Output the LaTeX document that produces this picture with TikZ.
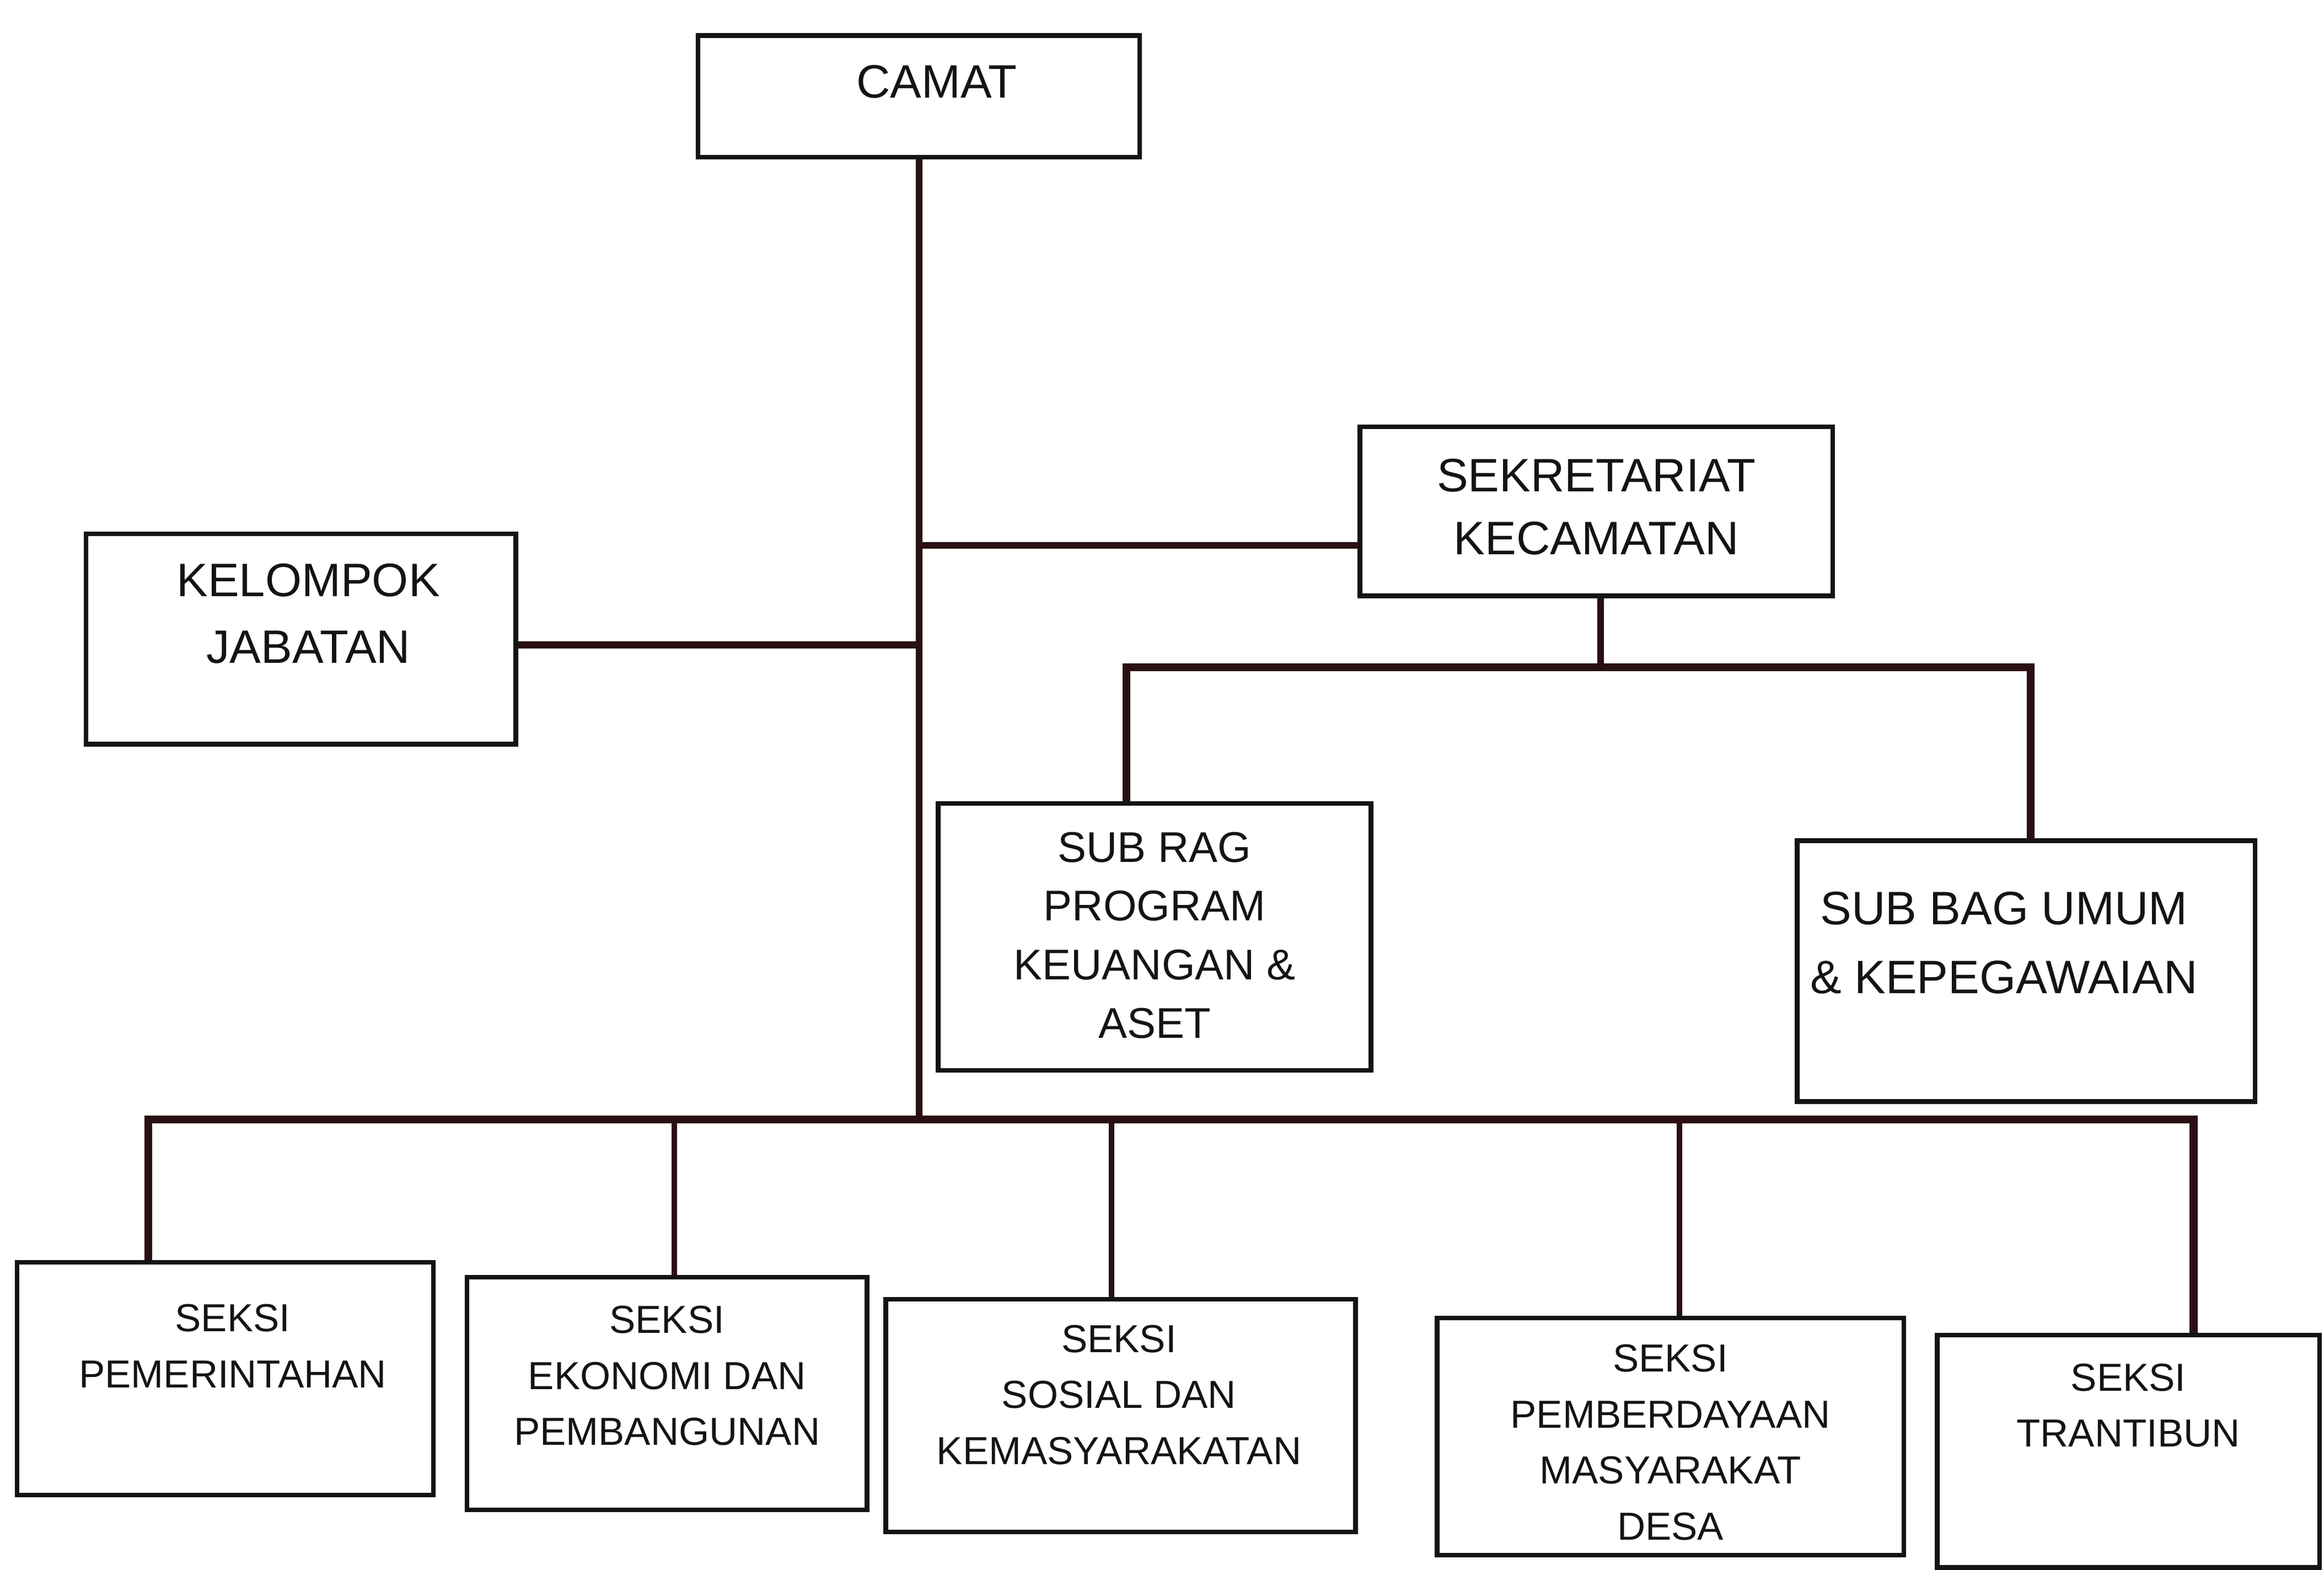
\documentclass[tikz,border=0pt]{standalone}
\usepackage{fontspec}
\setmainfont{Liberation Sans}
\definecolor{linkc}{HTML}{2A1012}
\definecolor{boxc}{HTML}{141414}
\begin{document}
\begin{tikzpicture}[x=0.02cm,y=-0.02cm,
  box/.style={draw=boxc, line width=1.8pt, fill=white, inner sep=0pt},
  lbl/.style={align=center, inner sep=0pt, text=boxc, font=\fontsize{18}{24}\selectfont},
  mlbl/.style={align=center, inner sep=0pt, text=boxc, font=\fontsize{16.5}{22.5}\selectfont},
  slbl/.style={align=center, inner sep=0pt, text=boxc, font=\fontsize{15}{21.5}\selectfont},
  link/.style={draw=linkc, line width=2.6pt},
  bus/.style={draw=linkc, line width=3pt, line join=miter},
  drop/.style={draw=linkc, line width=2.2pt}]
\fill[white] (0,0) rectangle (1568,1059);
\useasboundingbox (0,0) rectangle (1568,1059);

% boxes
\node[box, minimum width=5.96cm, minimum height=1.64cm] (camat) at (620,65) {};
\node[box, minimum width=6.38cm, minimum height=2.28cm] (sek) at (1077,345) {};
\node[box, minimum width=5.80cm, minimum height=2.84cm] (kel) at (203,431) {};
\node[box, minimum width=5.84cm, minimum height=3.60cm] (subrag) at (779,632) {};
\node[box, minimum width=6.18cm, minimum height=3.52cm] (subumum) at (1367,655) {};
\node[box, minimum width=5.62cm, minimum height=3.14cm] (s1) at (152,930) {};
\node[box, minimum width=5.40cm, minimum height=3.14cm] (s2) at (450,940) {};
\node[box, minimum width=6.34cm, minimum height=3.14cm] (s3) at (756,955) {};
\node[box, minimum width=6.30cm, minimum height=3.20cm] (s4) at (1127,969) {};
\node[box, minimum width=5.16cm, minimum height=3.14cm] (s5) at (1436,979) {};

% texts
\node[lbl] (camatt) at (632,55) {CAMAT};
\node[lbl] (sekt) at (1077,342) {SEKRETARIAT\\KECAMATAN};
\node[lbl, font=\fontsize{18}{25.5}\selectfont] (kelt) at (208,414) {KELOMPOK\\JABATAN};
\node[mlbl] (subragt) at (779,631) {SUB RAG\\PROGRAM\\KEUANGAN \&\\ASET};
\node[lbl, font=\fontsize{18}{26.5}\selectfont] (subumumt) at (1352,636) {SUB BAG UMUM\\\& KEPEGAWAIAN};
\node[slbl] (s1t) at (157,908) {SEKSI\\PEMERINTAHAN};
\node[slbl] (s2t) at (450,928) {SEKSI\\EKONOMI DAN\\PEMBANGUNAN};
\node[slbl] (s3t) at (755,941) {SEKSI\\SOSIAL DAN\\KEMASYARAKATAN};
\node[slbl] (s4t) at (1127,973) {SEKSI\\PEMBERDAYAAN\\MASYARAKAT\\DESA};
\node[slbl] (s5t) at (1436,948) {SEKSI\\TRANTIBUN};

% junction points
\coordinate (bj) at (620,755);
\coordinate (kj) at (620,435);
\coordinate (sj) at (620,368);
\coordinate (sb) at (1080,450);
\coordinate (sbl) at (760,450);
\coordinate (sbr) at (1370,450);
\coordinate (bl) at (100,755);
\coordinate (br) at (1480,755);
\coordinate (d2) at (455,755);
\coordinate (d3) at (750,755);
\coordinate (d4) at (1133,755);

% connectors
\draw[link] (camat.south) -- (bj);
\draw[link] (kel.east |- kj) -- (kj);
\draw[link] (sj) -- (sj -| sek.west);
\draw[link] (sek.south -| sb) -- (sb);
\draw[bus] (subrag.north -| sbl) -- (sbl) -- (sbr) -- (subumum.north -| sbr);
\draw[bus] (s1.north -| bl) -- (bl) -- (br) -- (s5.north -| br);
\draw[drop] (d2) -- (s2.north -| d2);
\draw[drop] (d3) -- (s3.north -| d3);
\draw[drop] (d4) -- (s4.north -| d4);
\end{tikzpicture}
\end{document}
